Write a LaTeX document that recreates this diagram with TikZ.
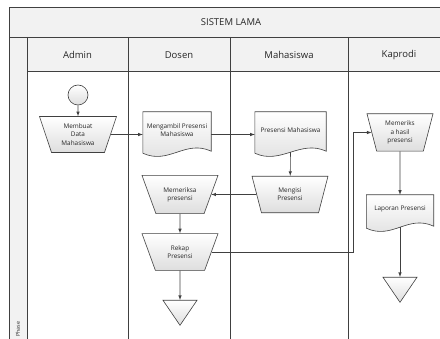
\documentclass[tikz,border=0pt]{standalone}
\usepackage{fontspec}
\setmainfont{Open Sans}
\usetikzlibrary{shapes.geometric,backgrounds,arrows}

\newcommand{\docpath}[1]{%
	\path[docbox] (#1.north west) -- (#1.north east) -- ([yshift=-3pt]#1.south east)
		.. controls ([xshift=-26pt,yshift=9pt]#1.south east) and ([xshift=26pt,yshift=-17pt]#1.south west)
		.. ([yshift=-5pt]#1.south west) -- cycle;}

\begin{document}
\begin{tikzpicture}[x=1pt, y=-1pt, >=latex,
		every node/.style={font=\fontsize{6.4}{8.2}\selectfont, align=center, text=black!85},
		every edge/.style={draw=black!75, semithick},
		line/.style={draw=black!75, semithick},
		shapefill/.style={draw=black!75, semithick, top color=white, bottom color=black!13},
		manop/.style={trapezium, shape border rotate=180, trapezium stretches body, trapezium angle=70, shapefill, minimum width=76pt, inner xsep=1pt, inner ysep=11.8pt},
		tall/.style={inner ysep=7.3pt},
		docnode/.style={rectangle, draw=none, minimum width=68pt, minimum height=36pt, inner sep=1pt},
		docbox/.style={shapefill},
		endtri/.style={isosceles triangle, isosceles triangle apex angle=68, isosceles triangle stretches, shape border rotate=270, shapefill, minimum width=34pt, minimum height=25pt, inner sep=0pt},
		head/.style={font=\fontsize{9.5}{11}\selectfont},
		band/.style={fill=black!5}]
	\useasboundingbox (0,0) rectangle (440,339);

	\path[band] (9,7) rectangle (440,37);
	\path[band] (27,37) rectangle (440,71);
	\path[band] (9,37) rectangle (27,339);
	\draw[line] (9,339) -- (9,7) -- (440,7);
	\draw[line] (9,37) -- (440,37);
	\draw[line] (27,71) -- (440,71);
	\foreach \lx in {27,128,230,348}
		\draw[line] (\lx,37) -- (\lx,339);

	\node[head] (title) at (231,22) {SISTEM LAMA};
	\node[head] (admin) at (77.5,55) {Admin};
	\node[head] (dosen) at (179,55) {Dosen};
	\node[head] (mhs) at (289,55) {Mahasiswa};
	\node[head] (kaprodi) at (399,55) {Kaprodi};
	\node[font=\fontsize{5.3}{6}\selectfont, rotate=90] (phase) at (18,329) {Phase};

	\node[circle, shapefill, minimum size=20pt, inner sep=0pt] (start) at (78,95) {};
	\node[manop, tall, trapezium angle=71.5, minimum width=77pt] (membuat) at (78,134.5) {Membuat\\Data\\Mahasiswa};
	\node[docnode] (mengambil) at (177,130) {Mengambil Presensi\\Mahasiswa};
	\node[docnode, minimum width=71pt] (presensi) at (290.5,130) {Presensi Mahasiswa};
	\node[manop, trapezium angle=75.5] (mengisi) at (290,194.5) {Mengisi\\Presensi};
	\node[manop] (memeriksa) at (180,194.5) {Memeriksa\\presensi};
	\node[manop] (rekap) at (180,252) {Rekap\\Presensi};
	\node[endtri, anchor=lower side] (end1) at (180,300) {};
	\node[manop, tall, trapezium angle=75.5, minimum width=66pt] (hasil) at (400,132.5) {Memeriks\\a hasil\\presensi};
	\node[docnode, minimum width=67pt, minimum height=28pt] (laporan) at (400,209) {Laporan Presensi};
	\node[endtri, anchor=lower side] (end2) at (400,277) {};
	\coordinate (turn) at (353,132.5);

	\begin{scope}[on background layer]
		\docpath{mengambil}
		\docpath{presensi}
		\docpath{laporan}
	\end{scope}

	\path (start) edge[->] (membuat);
	\path (membuat.east) edge[->] (membuat.east -| mengambil.west);
	\path (membuat.east -| mengambil.east) edge[->] (membuat.east -| presensi.west);
	\path ([yshift=-4pt]presensi.south) edge[->] (mengisi);
	\path (mengisi) edge[->] (memeriksa);
	\path (memeriksa) edge[->] (rekap);
	\path (rekap) edge[->] (end1);
	\draw[line, ->] (rekap.east) -| (turn) -- (hasil.west);
	\path (hasil) edge[->] (laporan);
	\path ([yshift=-4pt]laporan.south) edge[->] (end2);
\end{tikzpicture}
\end{document}
